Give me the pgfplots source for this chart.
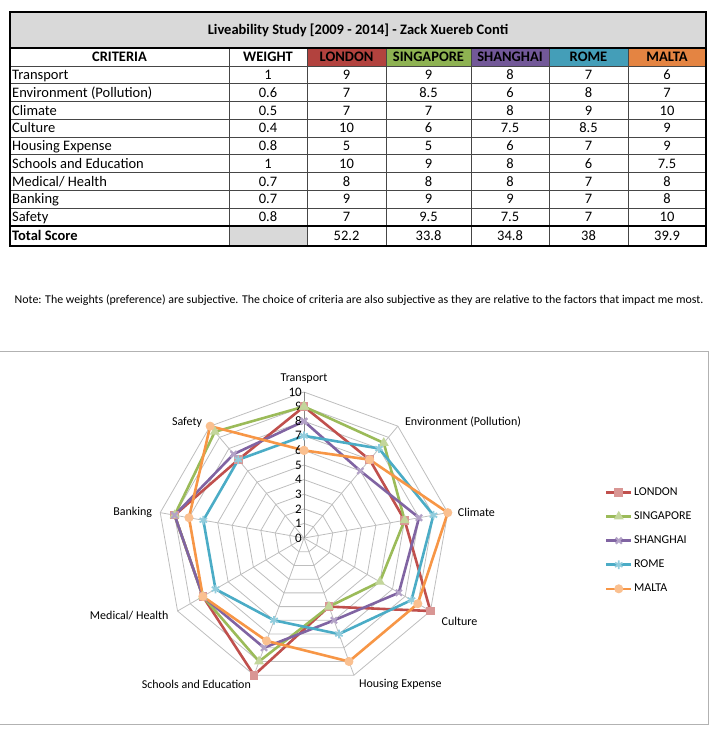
\documentclass[border=0pt]{standalone}
\usepackage{fontspec}
\setmainfont{Carlito}
\usepackage{pgfplots}
\pgfplotsset{compat=1.18}
\usepgfplotslibrary{polar}
\definecolor{cLon}{RGB}{192,80,77}
\definecolor{cSin}{RGB}{155,187,89}
\definecolor{cSha}{RGB}{128,100,162}
\definecolor{cRom}{RGB}{75,172,198}
\definecolor{cMal}{RGB}{247,150,70}
\definecolor{hLon}{RGB}{178,66,62}
\definecolor{hSin}{RGB}{142,178,82}
\definecolor{hSha}{RGB}{114,88,152}
\definecolor{hRom}{RGB}{68,158,184}
\definecolor{hMal}{RGB}{228,132,66}
\definecolor{gridc}{RGB}{190,190,190}
\definecolor{axisc}{RGB}{134,134,134}
\definecolor{tgray}{RGB}{217,217,217}
\definecolor{tline}{RGB}{70,70,70}
\newcommand\tf{\fontsize{14.5}{16}\selectfont}
\newcommand\cf{\fontsize{12}{14}\selectfont}
\newcommand{\trow}[8]{%
 \pgfmathsetmacro\yb{-(66+17.75*(#1-0.5)+4.8)}%
 \node[anchor=base west,inner sep=0pt] at (12pt,\yb pt) {#2};%
 \node[anchor=base,inner sep=0pt] at (268pt,\yb pt) {#3};%
 \node[anchor=base,inner sep=0pt] at (346.5pt,\yb pt) {#4};%
 \node[anchor=base,inner sep=0pt] at (428.5pt,\yb pt) {#5};%
 \node[anchor=base,inner sep=0pt] at (510pt,\yb pt) {#6};%
 \node[anchor=base,inner sep=0pt] at (588.5pt,\yb pt) {#7};%
 \node[anchor=base,inner sep=0pt] at (667pt,\yb pt) {#8};%
}
\begin{document}
\begin{tikzpicture}
\path[use as bounding box] (0pt,0pt) rectangle (718pt,-733pt);
% ---------- table ----------
\begin{scope}[font=\tf]
\fill[tgray] (10pt,-12pt) rectangle (706pt,-48pt);
\fill[hLon] (307pt,-48pt) rectangle (386pt,-66pt);
\fill[hSin] (386pt,-48pt) rectangle (471pt,-66pt);
\fill[hSha] (471pt,-48pt) rectangle (549pt,-66pt);
\fill[hRom] (549pt,-48pt) rectangle (628pt,-66pt);
\fill[hMal] (628pt,-48pt) rectangle (706pt,-66pt);
\fill[tgray] (229pt,-225.75pt) rectangle (307pt,-246pt);
\foreach \k in {0,...,8} {\draw[tline,line width=0.9pt] (10pt,{-(66+17.75*\k)*1pt}) -- (706pt,{-(66+17.75*\k)*1pt});}
\foreach \xx in {229,307,386,471,549,628} {\draw[tline,line width=0.9pt] (\xx pt,-48pt) -- (\xx pt,-246pt);}
\draw[black,line width=2.2pt] (10pt,-48pt) -- (706pt,-48pt);
\draw[black,line width=2.2pt] (10pt,-225.75pt) -- (706pt,-225.75pt);
\draw[black,line width=2.2pt] (10pt,-12pt) rectangle (706pt,-246pt);
\node[anchor=base,inner sep=0pt,font=\tf\bfseries] at (358pt,-34.8pt) {Liveability Study [2009 - 2014] - Zack Xuereb Conti};
\begin{scope}[font=\tf\bfseries]
\node[anchor=base,inner sep=0pt] at (119.5pt,-61.8pt) {CRITERIA};
\node[anchor=base,inner sep=0pt] at (268pt,-61.8pt) {WEIGHT};
\node[anchor=base,inner sep=0pt] at (346.5pt,-61.8pt) {LONDON};
\node[anchor=base,inner sep=0pt] at (428.5pt,-61.8pt) {SINGAPORE};
\node[anchor=base,inner sep=0pt] at (510pt,-61.8pt) {SHANGHAI};
\node[anchor=base,inner sep=0pt] at (588.5pt,-61.8pt) {ROME};
\node[anchor=base,inner sep=0pt] at (667pt,-61.8pt) {MALTA};
\node[anchor=base west,inner sep=0pt] at (12pt,-240.7pt) {Total Score};
\end{scope}
\trow{1}{Transport}{1}{9}{9}{8}{7}{6}
\trow{2}{Environment (Pollution)}{0.6}{7}{8.5}{6}{8}{7}
\trow{3}{Climate}{0.5}{7}{7}{8}{9}{10}
\trow{4}{Culture}{0.4}{10}{6}{7.5}{8.5}{9}
\trow{5}{Housing Expense}{0.8}{5}{5}{6}{7}{9}
\trow{6}{Schools and Education}{1}{10}{9}{8}{6}{7.5}
\trow{7}{Medical/ Health}{0.7}{8}{8}{8}{7}{8}
\trow{8}{Banking}{0.7}{9}{9}{9}{7}{8}
\trow{9}{Safety}{0.8}{7}{9.5}{7.5}{7}{10}
\node[anchor=base,inner sep=0pt] at (346.5pt,-240.7pt) {52.2};
\node[anchor=base,inner sep=0pt] at (428.5pt,-240.7pt) {33.8};
\node[anchor=base,inner sep=0pt] at (510pt,-240.7pt) {34.8};
\node[anchor=base,inner sep=0pt] at (588.5pt,-240.7pt) {38};
\node[anchor=base,inner sep=0pt] at (667pt,-240.7pt) {39.9};
\end{scope}
% ---------- note ----------
\node[anchor=base,inner sep=0pt,font=\fontsize{11.9}{13}\selectfont] at (359pt,-303pt) {Note: The weights (preference) are subjective. The choice of criteria are also subjective as they are relative to the factors that impact me most.};
% ---------- chart frame ----------
\draw[gray!60,line width=1pt] (0pt,-351pt) -- (708pt,-351pt) -- (708pt,-724pt) -- (0pt,-724pt);
% ---------- radar ----------
\begin{polaraxis}[
  at={(304pt,-538pt)}, anchor=center,
  scale only axis, width=292pt, height=292pt,
  xmin=0, xmax=360, ymin=0, ymax=10,
  hide axis, clip=false,
  legend style={at={(1.53,0.491)}, anchor=west, draw=none, fill=none,
    font=\cf, row sep=11.8pt, inner sep=0pt,
    nodes={inner sep=1.5pt}},
  legend cell align=left,
  legend image code/.code={\draw[mark repeat=2,mark phase=2,#1] plot coordinates {(0pt,0pt)(12.5pt,0pt)(25pt,0pt)};},
]
\pgfplotsinvokeforeach{1,...,10}{\addplot[gridc, line width=0.8pt, forget plot] coordinates {(90,#1)(50,#1)(10,#1)(330,#1)(290,#1)(250,#1)(210,#1)(170,#1)(130,#1)(90,#1)};}
\pgfplotsinvokeforeach{50,10,330,290,250,210,170,130}{\addplot[gridc, line width=0.8pt, forget plot] coordinates {(#1,0)(#1,10)};}
\addplot[axisc, line width=1pt, forget plot] coordinates {(90,0)(90,10)};

\addplot[cLon, line width=2.6pt, mark=square*, mark size=3.8pt, mark options={fill=cLon!60!white, draw=cLon!60!white, line width=1pt}]
 coordinates {(90,9)(50,7)(10,7)(330,10)(290,5)(250,10)(210,8)(170,9)(130,7)(90,9)};
\addlegendentry{LONDON}
\addplot[cSin, line width=2.6pt, mark=triangle*, mark size=4.8pt, mark options={fill=cSin!60!white, draw=cSin!60!white, line width=1pt}]
 coordinates {(90,9)(50,8.5)(10,7)(330,6)(290,5)(250,9)(210,8)(170,9)(130,9.5)(90,9)};
\addlegendentry{SINGAPORE}
\addplot[cSha, line width=2.6pt, mark=x, mark size=4.3pt, mark options={draw=cSha!60!white, line width=2.2pt}]
 coordinates {(90,8)(50,6)(10,8)(330,7.5)(290,6)(250,8)(210,8)(170,9)(130,7.5)(90,8)};
\addlegendentry{SHANGHAI}
\addplot[cRom, line width=2.6pt, mark=asterisk, mark size=4.3pt, mark options={draw=cRom!60!white, line width=1.8pt}]
 coordinates {(90,7)(50,8)(10,9)(330,8.5)(290,7)(250,6)(210,7)(170,7)(130,7)(90,7)};
\addlegendentry{ROME}
\addplot[cMal, line width=2.6pt, mark=*, mark size=4pt, mark options={fill=cMal!60!white, draw=cMal!60!white, line width=1pt}]
 coordinates {(90,6)(50,7)(10,10)(330,9)(290,9)(250,7.5)(210,8)(170,8)(130,10)(90,6)};
\addlegendentry{MALTA}

\pgfplotsinvokeforeach{0,...,10}{\node[anchor=east, inner sep=0pt, xshift=-2pt, font=\fontsize{13}{14}\selectfont] at (axis cs:90,#1) {#1};}
\begin{scope}[font=\cf, every node/.style={inner sep=2pt}]
\node[anchor=center, yshift=13pt] at (axis cs:90,10) {Transport};
\node[anchor=west, xshift=5pt, yshift=4pt] at (axis cs:50,10) {Environment (Pollution)};
\node[anchor=west, xshift=8pt] at (axis cs:10,10) {Climate};
\node[anchor=west, xshift=9pt, yshift=-10pt] at (axis cs:330,10) {Culture};
\node[anchor=west, xshift=3pt, yshift=-9pt] at (axis cs:290,10) {Housing Expense};
\node[anchor=east, xshift=-1pt, yshift=-9pt] at (axis cs:250,10) {Schools and Education};
\node[anchor=east, xshift=-7pt, yshift=-5pt] at (axis cs:210,10) {Medical/ Health};
\node[anchor=east, xshift=-6pt] at (axis cs:170,10) {Banking};
\node[anchor=east, xshift=-6pt, yshift=4pt] at (axis cs:130,10) {Safety};
\end{scope}
\end{polaraxis}
\end{tikzpicture}
\end{document}
